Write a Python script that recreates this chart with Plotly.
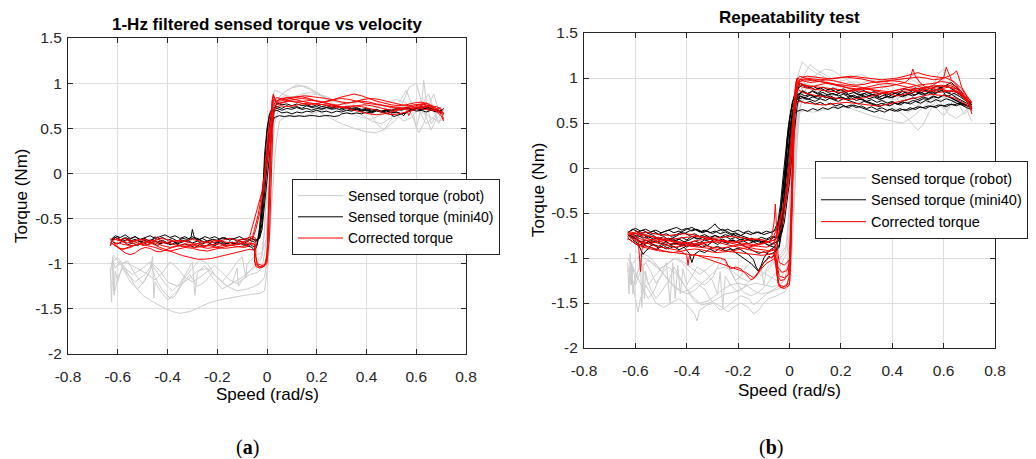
import plotly.graph_objects as go
from plotly.subplots import make_subplots

# tick values shared by both panels
x_ticks = [-0.8, -0.6, -0.4, -0.2, 0, 0.2, 0.4, 0.6, 0.8]
y_ticks = [-2, -1.5, -1, -0.5, 0, 0.5, 1, 1.5]

series_names = ["Sensed torque (robot)", "Sensed torque (mini40)", "Corrected torque"]

# ---- panel (a): 1-Hz filtered, (speed, torque) pairs ----
a_robot = [
    [(-0.63,-1.05),(-0.625,-1.42),(-0.62,-0.92),(-0.615,-1.30),(-0.61,-1.08),(-0.60,-1.20),(-0.58,-1.00),(-0.56,-0.97),(-0.53,-1.12),(-0.50,-1.22),(-0.47,-1.08),(-0.46,-0.92),(-0.455,-1.38),(-0.45,-1.20),(-0.43,-1.30),(-0.40,-1.40),(-0.37,-1.36),(-0.34,-1.22),(-0.31,-1.12),(-0.28,-1.25),(-0.25,-1.20),(-0.22,-1.10),(-0.19,-1.18),(-0.16,-1.25),(-0.13,-1.20),(-0.10,-1.15),(-0.07,-1.08),(-0.04,-1.02),(-0.02,-0.92),(-0.01,-0.60),(0.0,-0.15),(0.01,0.30),(0.02,0.62),(0.04,0.80),(0.07,0.86),(0.10,0.84),(0.14,0.88),(0.18,0.90),(0.22,0.86),(0.26,0.80),(0.30,0.78),(0.34,0.72),(0.38,0.65),(0.42,0.58),(0.46,0.55),(0.50,0.62),(0.54,0.74),(0.57,0.95),(0.60,1.00),(0.63,0.70),(0.66,0.48),(0.68,0.60),(0.70,0.66)],
    [(-0.63,-1.10),(-0.62,-0.95),(-0.61,-1.05),(-0.59,-0.97),(-0.56,-1.10),(-0.53,-1.25),(-0.50,-1.35),(-0.46,-1.42),(-0.42,-1.48),(-0.38,-1.53),(-0.35,-1.55),(-0.31,-1.53),(-0.27,-1.48),(-0.23,-1.43),(-0.19,-1.40),(-0.15,-1.38),(-0.11,-1.36),(-0.07,-1.34),(-0.03,-1.33),(-0.01,-1.30),(0.005,-1.0),(0.012,-0.4),(0.02,0.2),(0.03,0.55),(0.05,0.75),(0.08,0.82),(0.12,0.80),(0.16,0.75),(0.20,0.70),(0.25,0.62),(0.30,0.55),(0.35,0.50),(0.40,0.46),(0.44,0.45),(0.48,0.50),(0.52,0.60),(0.55,0.72),(0.58,0.80),(0.61,0.70),(0.64,0.55),(0.67,0.62),(0.70,0.74)],
    [(-0.62,-1.20),(-0.615,-1.35),(-0.60,-1.15),(-0.58,-1.05),(-0.55,-1.20),(-0.52,-1.28),(-0.49,-1.18),(-0.46,-1.02),(-0.44,-1.10),(-0.41,-1.22),(-0.38,-1.30),(-0.35,-1.22),(-0.32,-1.08),(-0.30,-0.98),(-0.29,-1.35),(-0.28,-1.10),(-0.25,-1.02),(-0.22,-1.15),(-0.18,-1.28),(-0.14,-1.22),(-0.12,-1.05),(-0.115,-1.25),(-0.10,-1.18),(-0.07,-1.12),(-0.04,-1.10),(-0.02,-1.05),(-0.005,-0.80),(0.005,-0.3),(0.015,0.3),(0.025,0.65),(0.04,0.82),(0.07,0.90),(0.10,0.95),(0.14,0.97),(0.18,0.92),(0.22,0.85),(0.26,0.78),(0.30,0.72),(0.34,0.75),(0.38,0.82),(0.41,0.70),(0.44,0.55),(0.47,0.48),(0.50,0.60),(0.53,0.78),(0.56,0.92),(0.58,0.78),(0.60,0.50),(0.62,0.72),(0.63,1.03),(0.64,0.80),(0.66,0.55),(0.69,0.68),(0.71,0.72)],
    [(-0.63,-1.00),(-0.60,-0.93),(-0.57,-1.05),(-0.54,-1.12),(-0.50,-1.05),(-0.47,-0.98),(-0.45,-1.15),(-0.42,-1.30),(-0.39,-1.38),(-0.36,-1.30),(-0.33,-1.15),(-0.30,-1.05),(-0.27,-0.95),(-0.24,-1.00),(-0.21,-1.12),(-0.18,-1.20),(-0.15,-1.10),(-0.12,-0.98),(-0.10,-0.92),(-0.085,-1.15),(-0.08,-1.00),(-0.06,-0.95),(-0.04,-0.90),(-0.02,-0.88),(0.0,-0.70),(0.01,-0.2),(0.02,0.35),(0.03,0.70),(0.05,0.85),(0.08,0.92),(0.12,0.98),(0.16,0.96),(0.20,0.90),(0.24,0.83),(0.28,0.80),(0.32,0.78),(0.36,0.80),(0.40,0.84),(0.44,0.80),(0.48,0.72),(0.52,0.65),(0.55,0.58),(0.58,0.62),(0.62,0.75),(0.65,0.88),(0.67,0.70),(0.69,0.55),(0.70,0.62)],
    [(-0.62,-0.90),(-0.59,-1.00),(-0.56,-1.12),(-0.53,-1.20),(-0.49,-1.12),(-0.46,-1.00),(-0.43,-1.08),(-0.40,-1.20),(-0.36,-1.25),(-0.32,-1.18),(-0.28,-1.08),(-0.24,-1.05),(-0.20,-1.15),(-0.16,-1.25),(-0.12,-1.30),(-0.08,-1.28),(-0.05,-1.25),(-0.03,-1.22),(-0.01,-1.15),(0.005,-0.90),(0.02,-0.3),(0.035,0.3),(0.05,0.58),(0.07,0.62),(0.10,0.64),(0.14,0.63),(0.18,0.66),(0.22,0.70),(0.26,0.72),(0.30,0.70),(0.34,0.66),(0.38,0.62),(0.42,0.60),(0.46,0.65),(0.50,0.72),(0.54,0.75),(0.58,0.72),(0.62,0.68),(0.66,0.62),(0.69,0.58),(0.71,0.60)],
    [(-0.60,-1.02),(-0.57,-0.98),(-0.53,-1.04),(-0.49,-1.10),(-0.45,-1.18),(-0.42,-1.10),(-0.39,-0.98),(-0.36,-1.05),(-0.33,-1.15),(-0.30,-1.20),(-0.27,-1.15),(-0.24,-1.08),(-0.21,-1.02),(-0.18,-1.10),(-0.15,-1.18),(-0.12,-1.22),(-0.09,-1.15),(-0.06,-1.05),(-0.04,-0.98),(-0.02,-0.90),(-0.01,-0.65),(0.0,-0.1),(0.01,0.45),(0.02,0.80),(0.03,0.92),(0.05,0.90),(0.08,0.86),(0.12,0.84),(0.16,0.86),(0.20,0.88),(0.24,0.85),(0.28,0.80),(0.32,0.76),(0.36,0.72),(0.40,0.70),(0.44,0.73),(0.48,0.78),(0.52,0.82),(0.56,0.78),(0.59,0.60),(0.61,0.45),(0.63,0.55),(0.65,0.75),(0.67,0.88),(0.69,0.70),(0.71,0.66)],
]

a_mini40 = [
    [(-0.63,-0.80),(-0.62,-0.72),(-0.60,-0.70),(-0.59,-0.74),(-0.57,-0.71),(-0.55,-0.73),(-0.53,-0.70),(-0.51,-0.74),(-0.49,-0.72),(-0.47,-0.76),(-0.45,-0.70),(-0.44,-0.73),(-0.42,-0.71),(-0.40,-0.74),(-0.38,-0.72),(-0.36,-0.75),(-0.34,-0.72),(-0.32,-0.73),(-0.30,-0.70),(-0.28,-0.74),(-0.26,-0.72),(-0.24,-0.75),(-0.22,-0.73),(-0.20,-0.74),(-0.18,-0.71),(-0.16,-0.73),(-0.14,-0.72),(-0.12,-0.75),(-0.10,-0.73),(-0.08,-0.74),(-0.06,-0.72),(-0.04,-0.75),(-0.03,-0.68),(-0.02,-0.45),(-0.01,-0.10),(0.0,0.25),(0.01,0.55),(0.02,0.68),(0.04,0.70),(0.06,0.67),(0.08,0.68),(0.10,0.66),(0.12,0.68),(0.14,0.67),(0.16,0.69),(0.18,0.68),(0.20,0.70),(0.22,0.68),(0.24,0.69),(0.26,0.67),(0.28,0.69),(0.30,0.68),(0.32,0.70),(0.34,0.69),(0.36,0.71),(0.38,0.69),(0.40,0.70),(0.42,0.68),(0.44,0.70),(0.46,0.69),(0.48,0.71),(0.50,0.70),(0.52,0.72),(0.54,0.71),(0.56,0.73),(0.58,0.72),(0.60,0.73),(0.62,0.71),(0.64,0.72),(0.66,0.70),(0.68,0.71),(0.70,0.69),(0.71,0.72)],
    [(-0.62,-0.76),(-0.60,-0.78),(-0.58,-0.75),(-0.56,-0.79),(-0.54,-0.77),(-0.52,-0.80),(-0.50,-0.76),(-0.48,-0.79),(-0.46,-0.77),(-0.44,-0.80),(-0.42,-0.76),(-0.40,-0.78),(-0.38,-0.75),(-0.36,-0.77),(-0.34,-0.74),(-0.32,-0.76),(-0.305,-0.70),(-0.30,-0.62),(-0.295,-0.68),(-0.29,-0.72),(-0.27,-0.74),(-0.25,-0.76),(-0.23,-0.74),(-0.21,-0.77),(-0.19,-0.75),(-0.17,-0.78),(-0.15,-0.76),(-0.13,-0.79),(-0.11,-0.77),(-0.09,-0.80),(-0.07,-0.78),(-0.05,-0.82),(-0.04,-0.78),(-0.03,-0.60),(-0.02,-0.30),(-0.01,0.10),(0.0,0.45),(0.01,0.65),(0.02,0.72),(0.04,0.74),(0.06,0.72),(0.08,0.75),(0.10,0.73),(0.12,0.74),(0.14,0.72),(0.16,0.75),(0.18,0.73),(0.20,0.74),(0.22,0.72),(0.24,0.73),(0.26,0.71),(0.28,0.72),(0.30,0.70),(0.32,0.72),(0.34,0.70),(0.36,0.71),(0.38,0.69),(0.40,0.70),(0.42,0.68),(0.44,0.70),(0.46,0.68),(0.48,0.69),(0.50,0.67),(0.52,0.68),(0.54,0.66),(0.56,0.67),(0.58,0.70),(0.60,0.72),(0.62,0.70),(0.64,0.73),(0.66,0.71),(0.68,0.69),(0.70,0.70)],
    [(-0.63,-0.74),(-0.61,-0.69),(-0.59,-0.71),(-0.57,-0.68),(-0.55,-0.72),(-0.53,-0.70),(-0.51,-0.73),(-0.49,-0.71),(-0.47,-0.69),(-0.45,-0.72),(-0.43,-0.70),(-0.41,-0.68),(-0.39,-0.71),(-0.37,-0.69),(-0.35,-0.72),(-0.33,-0.70),(-0.31,-0.73),(-0.29,-0.71),(-0.27,-0.73),(-0.25,-0.70),(-0.23,-0.72),(-0.21,-0.70),(-0.19,-0.73),(-0.17,-0.71),(-0.15,-0.74),(-0.13,-0.72),(-0.11,-0.70),(-0.09,-0.73),(-0.07,-0.71),(-0.05,-0.74),(-0.03,-0.72),(-0.02,-0.55),(-0.01,-0.20),(0.0,0.15),(0.01,0.40),(0.02,0.55),(0.03,0.62),(0.05,0.64),(0.07,0.63),(0.09,0.64),(0.11,0.63),(0.13,0.64),(0.15,0.63),(0.17,0.64),(0.19,0.64),(0.21,0.63),(0.23,0.64),(0.25,0.64),(0.27,0.63),(0.29,0.64),(0.30,0.66),(0.32,0.67),(0.34,0.66),(0.36,0.67),(0.38,0.66),(0.40,0.68),(0.42,0.67),(0.44,0.69),(0.46,0.68),(0.48,0.70),(0.50,0.69),(0.52,0.71),(0.54,0.70),(0.56,0.72),(0.58,0.71),(0.60,0.73),(0.62,0.72),(0.64,0.74),(0.66,0.72),(0.68,0.70),(0.70,0.68)],
    [(0.71,0.66),(0.70,0.70),(0.68,0.68),(0.66,0.70),(0.64,0.68),(0.62,0.70),(0.60,0.69),(0.58,0.71),(0.56,0.68),(0.55,0.64),(0.54,0.66),(0.52,0.68),(0.50,0.67),(0.48,0.70),(0.46,0.69),(0.44,0.71),(0.42,0.70),(0.40,0.72),(0.38,0.71),(0.36,0.73),(0.34,0.72),(0.32,0.74),(0.30,0.72),(0.28,0.75),(0.26,0.73),(0.24,0.75),(0.22,0.74),(0.20,0.76),(0.18,0.74),(0.16,0.76),(0.14,0.75),(0.12,0.77),(0.10,0.75),(0.08,0.77),(0.06,0.76),(0.04,0.78),(0.03,0.72),(0.02,0.50),(0.01,0.20),(0.0,-0.10),(-0.01,-0.40),(-0.02,-0.62),(-0.03,-0.72),(-0.05,-0.76),(-0.07,-0.74),(-0.09,-0.77),(-0.11,-0.75),(-0.13,-0.78),(-0.15,-0.76),(-0.17,-0.79),(-0.19,-0.77),(-0.21,-0.80),(-0.23,-0.78),(-0.25,-0.81),(-0.27,-0.79),(-0.29,-0.82),(-0.31,-0.80),(-0.33,-0.78),(-0.35,-0.80),(-0.37,-0.77),(-0.39,-0.79),(-0.41,-0.76),(-0.43,-0.78),(-0.45,-0.75),(-0.47,-0.77),(-0.49,-0.74),(-0.51,-0.76),(-0.53,-0.73),(-0.55,-0.75),(-0.57,-0.72),(-0.59,-0.74),(-0.61,-0.71),(-0.62,-0.74)],
    [(-0.60,-0.72),(-0.58,-0.75),(-0.56,-0.73),(-0.54,-0.76),(-0.52,-0.74),(-0.50,-0.77),(-0.48,-0.75),(-0.46,-0.73),(-0.44,-0.76),(-0.42,-0.74),(-0.40,-0.77),(-0.38,-0.75),(-0.36,-0.78),(-0.34,-0.76),(-0.32,-0.74),(-0.30,-0.77),(-0.28,-0.75),(-0.26,-0.78),(-0.24,-0.76),(-0.22,-0.79),(-0.20,-0.77),(-0.18,-0.75),(-0.16,-0.78),(-0.14,-0.76),(-0.12,-0.79),(-0.10,-0.77),(-0.08,-0.80),(-0.06,-0.82),(-0.05,-0.86),(-0.04,-0.80),(-0.03,-0.65),(-0.02,-0.40),(-0.015,-0.10),(-0.01,0.20),(0.0,0.50),(0.01,0.66),(0.02,0.70),(0.04,0.72),(0.06,0.70),(0.08,0.72),(0.10,0.71),(0.12,0.73),(0.14,0.71),(0.16,0.72),(0.18,0.70),(0.20,0.72),(0.22,0.71),(0.24,0.73),(0.26,0.72),(0.28,0.74),(0.30,0.72),(0.32,0.73),(0.34,0.71),(0.36,0.72),(0.38,0.70),(0.40,0.71),(0.42,0.69),(0.44,0.70),(0.46,0.68),(0.48,0.67),(0.50,0.65),(0.51,0.63),(0.52,0.64),(0.54,0.66),(0.56,0.68),(0.58,0.70),(0.60,0.72),(0.62,0.74),(0.64,0.73),(0.66,0.72),(0.68,0.70),(0.70,0.67)],
]

a_corrected = [
    [(-0.63,-0.80),(-0.62,-0.74),(-0.60,-0.72),(-0.58,-0.76),(-0.56,-0.74),(-0.54,-0.78),(-0.52,-0.76),(-0.50,-0.80),(-0.47,-0.78),(-0.45,-0.74),(-0.44,-0.70),(-0.43,-0.75),(-0.40,-0.77),(-0.37,-0.79),(-0.34,-0.81),(-0.31,-0.80),(-0.28,-0.78),(-0.25,-0.80),(-0.22,-0.79),(-0.19,-0.78),(-0.16,-0.80),(-0.13,-0.79),(-0.10,-0.78),(-0.07,-0.77),(-0.05,-0.78),(-0.05,-0.95),(-0.045,-1.03),(-0.03,-1.05),(-0.01,-1.02),(0.0,-0.90),(0.005,-0.50),(0.01,0.0),(0.015,0.50),(0.02,0.80),(0.025,0.86),(0.03,0.82),(0.05,0.80),(0.08,0.82),(0.11,0.84),(0.14,0.85),(0.17,0.83),(0.20,0.80),(0.23,0.78),(0.26,0.76),(0.29,0.74),(0.32,0.72),(0.35,0.70),(0.38,0.68),(0.41,0.66),(0.44,0.65),(0.47,0.66),(0.50,0.68),(0.53,0.70),(0.56,0.72),(0.59,0.74),(0.62,0.76),(0.64,0.78),(0.66,0.74),(0.68,0.70),(0.70,0.66)],
    [(0.71,0.60),(0.70,0.68),(0.68,0.72),(0.66,0.74),(0.64,0.76),(0.62,0.77),(0.60,0.76),(0.57,0.75),(0.54,0.76),(0.51,0.78),(0.48,0.80),(0.45,0.82),(0.42,0.83),(0.39,0.82),(0.36,0.80),(0.33,0.78),(0.30,0.79),(0.27,0.81),(0.24,0.83),(0.21,0.84),(0.18,0.85),(0.15,0.86),(0.12,0.85),(0.09,0.84),(0.06,0.83),(0.04,0.80),(0.02,0.74),(0.01,0.60),(0.0,0.30),(-0.01,0.0),(-0.02,-0.20),(-0.04,-0.40),(-0.06,-0.60),(-0.07,-0.70),(-0.09,-0.76),(-0.12,-0.78),(-0.15,-0.80),(-0.18,-0.82),(-0.21,-0.84),(-0.24,-0.86),(-0.27,-0.85),(-0.30,-0.83),(-0.33,-0.82),(-0.36,-0.84),(-0.39,-0.86),(-0.42,-0.85),(-0.45,-0.82),(-0.48,-0.80),(-0.51,-0.78),(-0.54,-0.80),(-0.57,-0.83),(-0.59,-0.84),(-0.61,-0.80),(-0.63,-0.76)],
    [(-0.62,-0.78),(-0.60,-0.82),(-0.58,-0.84),(-0.55,-0.82),(-0.52,-0.78),(-0.49,-0.76),(-0.46,-0.78),(-0.43,-0.82),(-0.40,-0.85),(-0.37,-0.88),(-0.34,-0.91),(-0.31,-0.93),(-0.28,-0.95),(-0.25,-0.95),(-0.22,-0.94),(-0.19,-0.92),(-0.16,-0.90),(-0.13,-0.88),(-0.10,-0.86),(-0.07,-0.84),(-0.05,-0.85),(-0.04,-1.00),(-0.03,-1.04),(-0.01,-1.03),(0.0,-0.95),(0.005,-0.60),(0.01,-0.10),(0.015,0.40),(0.02,0.75),(0.025,0.88),(0.03,0.84),(0.04,0.76),(0.06,0.78),(0.09,0.80),(0.12,0.79),(0.15,0.77),(0.18,0.76),(0.21,0.78),(0.24,0.80),(0.27,0.82),(0.30,0.83),(0.33,0.82),(0.36,0.80),(0.39,0.78),(0.42,0.77),(0.45,0.76),(0.48,0.75),(0.51,0.74),(0.54,0.73),(0.56,0.72),(0.57,0.64),(0.58,0.70),(0.60,0.74),(0.63,0.76),(0.66,0.73),(0.69,0.68),(0.71,0.65)],
    [(-0.60,-0.74),(-0.57,-0.72),(-0.54,-0.75),(-0.51,-0.73),(-0.48,-0.76),(-0.45,-0.74),(-0.42,-0.72),(-0.39,-0.74),(-0.36,-0.76),(-0.33,-0.75),(-0.30,-0.73),(-0.27,-0.75),(-0.24,-0.77),(-0.21,-0.76),(-0.18,-0.74),(-0.15,-0.72),(-0.12,-0.74),(-0.10,-0.73),(-0.08,-0.72),(-0.06,-0.70),(-0.045,-0.72),(-0.045,-0.92),(-0.04,-1.00),(-0.02,-1.02),(0.0,-1.00),(0.01,-0.70),(0.015,-0.20),(0.02,0.30),(0.025,0.65),(0.03,0.78),(0.05,0.82),(0.08,0.84),(0.11,0.82),(0.14,0.80),(0.17,0.78),(0.20,0.77),(0.23,0.76),(0.26,0.75),(0.29,0.76),(0.32,0.78),(0.35,0.79),(0.38,0.80),(0.41,0.79),(0.44,0.77),(0.47,0.75),(0.50,0.73),(0.53,0.72),(0.56,0.71),(0.59,0.72),(0.62,0.74),(0.65,0.72),(0.68,0.69),(0.70,0.64),(0.71,0.58)],
    [(0.70,0.72),(0.68,0.74),(0.65,0.75),(0.62,0.73),(0.59,0.70),(0.56,0.68),(0.53,0.66),(0.50,0.65),(0.47,0.67),(0.44,0.70),(0.41,0.72),(0.38,0.74),(0.35,0.75),(0.32,0.74),(0.29,0.73),(0.26,0.74),(0.23,0.76),(0.20,0.77),(0.17,0.78),(0.14,0.77),(0.11,0.75),(0.08,0.74),(0.05,0.75),(0.03,0.72),(0.015,0.50),(0.005,0.20),(-0.01,-0.05),(-0.02,-0.25),(-0.035,-0.45),(-0.05,-0.62),(-0.06,-0.72),(-0.08,-0.76),(-0.11,-0.75),(-0.14,-0.77),(-0.17,-0.76),(-0.20,-0.74),(-0.23,-0.75),(-0.26,-0.77),(-0.29,-0.78),(-0.32,-0.76),(-0.35,-0.74),(-0.38,-0.75),(-0.41,-0.77),(-0.44,-0.76),(-0.47,-0.74),(-0.50,-0.73),(-0.53,-0.75),(-0.56,-0.77),(-0.59,-0.75),(-0.62,-0.72)],
    [(-0.63,-0.72),(-0.61,-0.78),(-0.59,-0.84),(-0.57,-0.88),(-0.55,-0.90),(-0.53,-0.88),(-0.51,-0.84),(-0.49,-0.82),(-0.47,-0.83),(-0.45,-0.86),(-0.43,-0.87),(-0.41,-0.85),(-0.38,-0.82),(-0.35,-0.80),(-0.32,-0.81),(-0.29,-0.82),(-0.26,-0.81),(-0.23,-0.80),(-0.20,-0.82),(-0.17,-0.83),(-0.14,-0.82),(-0.11,-0.81),(-0.08,-0.80),(-0.06,-0.78),(-0.05,-0.80),(-0.05,-0.98),(-0.04,-1.02),(-0.02,-1.04),(-0.005,-1.00),(0.005,-0.75),(0.01,-0.30),(0.015,0.20),(0.02,0.60),(0.025,0.82),(0.03,0.80),(0.05,0.78),(0.08,0.80),(0.11,0.82),(0.14,0.83),(0.17,0.82),(0.20,0.80),(0.23,0.79),(0.26,0.81),(0.29,0.84),(0.32,0.86),(0.35,0.88),(0.38,0.86),(0.41,0.83),(0.44,0.80),(0.47,0.78),(0.50,0.76),(0.53,0.75),(0.56,0.76),(0.59,0.78),(0.62,0.79),(0.65,0.77),(0.67,0.74),(0.69,0.70),(0.71,0.67)],
    [(0.71,0.70),(0.69,0.72),(0.66,0.70),(0.63,0.71),(0.60,0.73),(0.57,0.74),(0.54,0.72),(0.51,0.70),(0.48,0.71),(0.45,0.73),(0.42,0.75),(0.39,0.76),(0.36,0.75),(0.33,0.73),(0.30,0.74),(0.27,0.76),(0.24,0.78),(0.21,0.80),(0.18,0.81),(0.15,0.80),(0.12,0.79),(0.09,0.80),(0.06,0.82),(0.04,0.84),(0.025,0.80),(0.015,0.55),(0.0,0.15),(-0.015,-0.20),(-0.03,-0.45),(-0.045,-0.62),(-0.06,-0.74),(-0.07,-0.80),(-0.09,-0.82),(-0.12,-0.81),(-0.15,-0.79),(-0.18,-0.80),(-0.21,-0.82),(-0.24,-0.83),(-0.27,-0.81),(-0.30,-0.79),(-0.33,-0.78),(-0.36,-0.80),(-0.39,-0.82),(-0.42,-0.80),(-0.45,-0.77),(-0.48,-0.76),(-0.51,-0.78),(-0.54,-0.80),(-0.57,-0.79),(-0.60,-0.77),(-0.62,-0.79)],
]

# ---- panel (b): repeatability test ----
b_robot = [
    [(-0.63,-1.05),(-0.625,-1.40),(-0.62,-0.95),(-0.615,-1.30),(-0.61,-1.10),(-0.60,-1.25),(-0.58,-1.05),(-0.56,-1.20),(-0.54,-1.35),(-0.52,-1.45),(-0.50,-1.38),(-0.47,-1.25),(-0.45,-1.10),(-0.43,-1.20),(-0.40,-1.35),(-0.37,-1.48),(-0.34,-1.52),(-0.31,-1.50),(-0.28,-1.45),(-0.25,-1.40),(-0.22,-1.38),(-0.19,-1.35),(-0.16,-1.30),(-0.13,-1.28),(-0.10,-1.30),(-0.07,-1.32),(-0.04,-1.30),(-0.02,-1.25),(0.0,-1.00),(0.01,-0.40),(0.02,0.20),(0.03,0.65),(0.05,0.88),(0.08,0.98),(0.11,1.05),(0.14,1.10),(0.17,1.08),(0.20,1.02),(0.24,0.95),(0.28,0.90),(0.32,0.88),(0.36,0.90),(0.40,0.95),(0.43,1.00),(0.46,1.05),(0.49,1.02),(0.52,0.92),(0.55,0.80),(0.58,0.70),(0.61,0.65),(0.64,0.72),(0.67,0.85),(0.69,0.75),(0.71,0.62)],
    [(-0.62,-1.10),(-0.61,-1.30),(-0.60,-1.45),(-0.59,-1.60),(-0.58,-1.45),(-0.56,-1.30),(-0.54,-1.40),(-0.52,-1.50),(-0.49,-1.55),(-0.46,-1.50),(-0.43,-1.45),(-0.40,-1.52),(-0.37,-1.62),(-0.36,-1.70),(-0.35,-1.58),(-0.32,-1.52),(-0.29,-1.50),(-0.26,-1.55),(-0.24,-1.60),(-0.22,-1.55),(-0.19,-1.50),(-0.16,-1.55),(-0.14,-1.62),(-0.12,-1.58),(-0.10,-1.50),(-0.08,-1.45),(-0.05,-1.42),(-0.02,-1.38),(0.0,-1.30),(0.01,-0.90),(0.02,-0.30),(0.03,0.30),(0.04,0.62),(0.06,0.64),(0.09,0.62),(0.12,0.64),(0.16,0.66),(0.20,0.68),(0.24,0.66),(0.28,0.62),(0.32,0.58),(0.36,0.55),(0.40,0.52),(0.44,0.50),(0.47,0.55),(0.50,0.62),(0.53,0.70),(0.56,0.78),(0.59,0.72),(0.62,0.60),(0.65,0.55),(0.68,0.62),(0.70,0.68)],
    [(-0.62,-1.20),(-0.60,-1.30),(-0.58,-1.15),(-0.56,-1.05),(-0.54,-1.15),(-0.52,-1.28),(-0.50,-1.20),(-0.48,-1.05),(-0.465,-1.50),(-0.455,-1.05),(-0.445,-1.45),(-0.435,-1.08),(-0.425,-1.40),(-0.415,-1.12),(-0.40,-1.30),(-0.38,-1.20),(-0.36,-1.10),(-0.33,-1.15),(-0.30,-1.25),(-0.28,-1.40),(-0.27,-1.15),(-0.26,-1.55),(-0.25,-1.20),(-0.23,-1.30),(-0.20,-1.38),(-0.17,-1.30),(-0.14,-1.20),(-0.11,-1.15),(-0.08,-1.20),(-0.05,-1.25),(-0.03,-1.20),(-0.01,-1.10),(0.005,-0.70),(0.015,-0.10),(0.025,0.45),(0.035,0.75),(0.05,0.92),(0.07,1.00),(0.10,1.02),(0.13,0.98),(0.16,0.94),(0.19,0.92),(0.22,0.90),(0.26,0.92),(0.30,0.96),(0.34,0.98),(0.38,0.95),(0.41,0.88),(0.44,0.80),(0.47,0.72),(0.50,0.68),(0.53,0.75),(0.56,0.90),(0.58,1.05),(0.60,1.10),(0.62,1.00),(0.64,0.85),(0.66,0.70),(0.68,0.60),(0.70,0.65)],
    [(-0.63,-1.00),(-0.61,-1.10),(-0.59,-1.22),(-0.57,-1.35),(-0.55,-1.45),(-0.53,-1.38),(-0.51,-1.25),(-0.49,-1.15),(-0.47,-1.10),(-0.44,-1.18),(-0.41,-1.30),(-0.38,-1.42),(-0.35,-1.50),(-0.32,-1.48),(-0.29,-1.42),(-0.26,-1.35),(-0.23,-1.30),(-0.20,-1.28),(-0.17,-1.30),(-0.14,-1.36),(-0.11,-1.40),(-0.08,-1.38),(-0.05,-1.33),(-0.03,-1.28),(-0.01,-1.20),(0.005,-0.90),(0.015,-0.30),(0.025,0.30),(0.035,0.62),(0.05,0.75),(0.08,0.80),(0.11,0.78),(0.14,0.74),(0.17,0.70),(0.20,0.68),(0.24,0.70),(0.28,0.74),(0.32,0.78),(0.36,0.76),(0.40,0.70),(0.43,0.62),(0.46,0.55),(0.48,0.48),(0.50,0.42),(0.52,0.48),(0.54,0.60),(0.57,0.75),(0.60,0.82),(0.63,0.78),(0.66,0.70),(0.69,0.72),(0.71,0.78)],
    [(-0.60,-0.92),(-0.57,-0.98),(-0.54,-1.05),(-0.51,-1.12),(-0.48,-1.08),(-0.45,-1.00),(-0.42,-1.05),(-0.39,-1.15),(-0.36,-1.25),(-0.33,-1.30),(-0.30,-1.22),(-0.28,-1.10),(-0.26,-1.00),(-0.24,-1.08),(-0.22,-1.20),(-0.20,-1.30),(-0.18,-1.38),(-0.15,-1.42),(-0.12,-1.38),(-0.09,-1.30),(-0.07,-1.22),(-0.05,-1.15),(-0.03,-1.05),(-0.01,-0.95),(0.0,-0.70),(0.01,-0.20),(0.02,0.35),(0.03,0.72),(0.04,0.92),(0.06,1.05),(0.08,1.15),(0.10,1.10),(0.13,1.05),(0.16,1.00),(0.19,0.95),(0.22,0.90),(0.25,0.85),(0.28,0.82),(0.31,0.80),(0.34,0.84),(0.37,0.90),(0.40,0.85),(0.43,0.72),(0.46,0.62),(0.49,0.66),(0.52,0.78),(0.55,0.92),(0.58,1.00),(0.61,0.95),(0.64,0.82),(0.67,0.72),(0.70,0.68)],
    [(-0.62,-1.30),(-0.615,-1.05),(-0.61,-1.40),(-0.60,-1.20),(-0.58,-1.10),(-0.55,-1.02),(-0.52,-1.08),(-0.49,-1.18),(-0.46,-1.28),(-0.43,-1.35),(-0.40,-1.40),(-0.37,-1.36),(-0.34,-1.28),(-0.31,-1.20),(-0.28,-1.12),(-0.25,-1.10),(-0.22,-1.15),(-0.19,-1.22),(-0.16,-1.26),(-0.13,-1.22),(-0.11,-1.10),(-0.10,-1.30),(-0.09,-1.12),(-0.07,-1.05),(-0.05,-1.00),(-0.03,-0.95),(-0.01,-0.85),(0.0,-0.50),(0.01,0.10),(0.02,0.60),(0.03,0.85),(0.05,0.95),(0.08,0.92),(0.11,0.88),(0.14,0.86),(0.17,0.88),(0.20,0.92),(0.23,0.95),(0.26,0.96),(0.29,0.93),(0.32,0.88),(0.35,0.82),(0.38,0.78),(0.41,0.76),(0.44,0.80),(0.47,0.86),(0.50,0.90),(0.53,0.86),(0.56,0.80),(0.59,0.76),(0.62,0.80),(0.64,0.92),(0.66,0.88),(0.68,0.72),(0.70,0.58),(0.71,0.52)],
    [(-0.63,-1.15),(-0.60,-1.02),(-0.57,-0.95),(-0.54,-1.00),(-0.51,-1.10),(-0.48,-1.22),(-0.45,-1.32),(-0.42,-1.38),(-0.39,-1.35),(-0.36,-1.28),(-0.33,-1.35),(-0.31,-1.45),(-0.29,-1.52),(-0.27,-1.58),(-0.25,-1.55),(-0.22,-1.48),(-0.19,-1.42),(-0.16,-1.45),(-0.14,-1.52),(-0.12,-1.48),(-0.09,-1.40),(-0.06,-1.36),(-0.03,-1.33),(-0.01,-1.28),(0.005,-1.10),(0.015,-0.50),(0.025,0.10),(0.035,0.55),(0.05,0.82),(0.07,0.90),(0.10,0.86),(0.13,0.82),(0.16,0.80),(0.19,0.82),(0.22,0.86),(0.25,0.88),(0.28,0.86),(0.31,0.82),(0.34,0.78),(0.37,0.74),(0.40,0.72),(0.43,0.74),(0.46,0.80),(0.49,0.86),(0.52,0.82),(0.55,0.72),(0.58,0.64),(0.60,0.58),(0.62,0.66),(0.64,0.78),(0.66,0.84),(0.68,0.80),(0.70,0.74)],
    [(-0.58,-1.00),(-0.575,-1.55),(-0.57,-1.10),(-0.565,-1.45),(-0.56,-1.15),(-0.55,-1.30),(-0.53,-1.22),(-0.50,-1.12),(-0.47,-1.05),(-0.44,-1.00),(-0.41,-1.05),(-0.38,-1.12),(-0.35,-1.18),(-0.32,-1.12),(-0.29,-1.05),(-0.27,-1.00),(-0.25,-1.05),(-0.23,-1.15),(-0.21,-1.25),(-0.19,-1.20),(-0.17,-1.10),(-0.15,-1.05),(-0.13,-1.12),(-0.11,-1.20),(-0.09,-1.15),(-0.07,-1.08),(-0.05,-1.02),(-0.03,-0.98),(-0.015,-0.92),(-0.005,-0.60),(0.005,0.0),(0.015,0.55),(0.025,0.90),(0.035,1.05),(0.05,1.18),(0.07,1.12),(0.10,1.06),(0.13,1.02),(0.16,0.98),(0.19,0.96),(0.22,0.98),(0.25,1.02),(0.28,1.04),(0.31,1.00),(0.34,0.94),(0.37,0.90),(0.40,0.92),(0.43,0.98),(0.46,1.00),(0.49,0.96),(0.52,0.90),(0.55,0.84),(0.58,0.80),(0.61,0.78),(0.64,0.74),(0.67,0.70),(0.70,0.66)],
]

b_mini40 = [
    [(-0.63,-0.72),(-0.61,-0.68),(-0.59,-0.71),(-0.57,-0.69),(-0.55,-0.73),(-0.53,-0.70),(-0.51,-0.74),(-0.49,-0.71),(-0.47,-0.69),(-0.45,-0.72),(-0.43,-0.70),(-0.41,-0.73),(-0.39,-0.70),(-0.37,-0.68),(-0.35,-0.71),(-0.33,-0.69),(-0.31,-0.72),(-0.29,-0.70),(-0.27,-0.73),(-0.25,-0.71),(-0.23,-0.74),(-0.21,-0.72),(-0.19,-0.75),(-0.17,-0.72),(-0.15,-0.74),(-0.13,-0.71),(-0.11,-0.73),(-0.09,-0.70),(-0.07,-0.72),(-0.05,-0.68),(-0.04,-0.55),(-0.03,-0.40),(-0.02,-0.20),(-0.01,0.10),(0.0,0.40),(0.01,0.62),(0.02,0.72),(0.04,0.75),(0.06,0.72),(0.08,0.74),(0.10,0.71),(0.12,0.73),(0.14,0.70),(0.16,0.72),(0.18,0.69),(0.20,0.71),(0.22,0.68),(0.24,0.70),(0.26,0.67),(0.28,0.69),(0.30,0.66),(0.32,0.68),(0.34,0.65),(0.36,0.67),(0.38,0.64),(0.40,0.66),(0.42,0.63),(0.44,0.65),(0.46,0.64),(0.48,0.66),(0.50,0.68),(0.52,0.67),(0.54,0.69),(0.56,0.68),(0.58,0.70),(0.60,0.69),(0.62,0.71),(0.64,0.70),(0.66,0.72),(0.68,0.70),(0.70,0.68)],
    [(-0.62,-0.75),(-0.60,-0.78),(-0.58,-0.82),(-0.57,-0.88),(-0.56,-0.84),(-0.54,-0.80),(-0.52,-0.83),(-0.50,-0.79),(-0.48,-0.82),(-0.46,-0.78),(-0.44,-0.81),(-0.42,-0.77),(-0.40,-0.80),(-0.38,-0.76),(-0.36,-0.79),(-0.34,-0.77),(-0.32,-0.80),(-0.30,-0.78),(-0.28,-0.81),(-0.26,-0.79),(-0.24,-0.82),(-0.22,-0.80),(-0.20,-0.83),(-0.18,-0.81),(-0.16,-0.84),(-0.14,-0.82),(-0.12,-0.85),(-0.10,-0.83),(-0.08,-0.86),(-0.06,-0.84),(-0.04,-0.80),(-0.03,-0.60),(-0.02,-0.30),(-0.01,0.00),(0.0,0.30),(0.01,0.55),(0.02,0.70),(0.03,0.80),(0.05,0.85),(0.07,0.82),(0.09,0.86),(0.11,0.83),(0.13,0.87),(0.15,0.84),(0.17,0.86),(0.19,0.83),(0.21,0.85),(0.23,0.82),(0.25,0.84),(0.27,0.81),(0.29,0.83),(0.31,0.80),(0.33,0.82),(0.35,0.79),(0.37,0.81),(0.39,0.78),(0.41,0.80),(0.43,0.82),(0.45,0.80),(0.47,0.83),(0.49,0.81),(0.51,0.84),(0.53,0.82),(0.55,0.85),(0.57,0.83),(0.59,0.86),(0.61,0.84),(0.63,0.82),(0.65,0.78),(0.67,0.75),(0.69,0.72),(0.71,0.70)],
    [(-0.63,-0.78),(-0.61,-0.82),(-0.59,-0.86),(-0.57,-0.84),(-0.55,-0.88),(-0.53,-0.85),(-0.51,-0.89),(-0.49,-0.86),(-0.47,-0.90),(-0.45,-0.87),(-0.43,-0.91),(-0.41,-0.88),(-0.39,-0.95),(-0.38,-1.05),(-0.37,-0.96),(-0.35,-0.92),(-0.33,-0.94),(-0.31,-0.90),(-0.29,-0.93),(-0.27,-0.89),(-0.25,-0.92),(-0.23,-0.90),(-0.21,-0.94),(-0.19,-0.98),(-0.17,-1.02),(-0.15,-1.06),(-0.13,-1.12),(-0.12,-1.15),(-0.11,-1.10),(-0.10,-1.05),(-0.09,-1.02),(-0.08,-0.98),(-0.07,-1.00),(-0.06,-0.96),(-0.05,-0.90),(-0.04,-0.70),(-0.03,-0.40),(-0.02,-0.10),(-0.01,0.20),(0.0,0.50),(0.01,0.70),(0.02,0.80),(0.04,0.83),(0.06,0.80),(0.08,0.82),(0.10,0.79),(0.12,0.81),(0.14,0.78),(0.16,0.80),(0.18,0.77),(0.20,0.79),(0.22,0.76),(0.24,0.78),(0.26,0.75),(0.28,0.77),(0.30,0.74),(0.32,0.76),(0.34,0.73),(0.36,0.75),(0.38,0.72),(0.40,0.74),(0.42,0.71),(0.44,0.73),(0.46,0.72),(0.48,0.75),(0.50,0.74),(0.52,0.77),(0.54,0.76),(0.56,0.79),(0.58,0.78),(0.60,0.81),(0.62,0.80),(0.64,0.83),(0.66,0.80),(0.68,0.76),(0.70,0.72)],
    [(0.71,0.66),(0.69,0.70),(0.67,0.72),(0.65,0.75),(0.63,0.78),(0.61,0.80),(0.60,0.84),(0.59,0.90),(0.58,0.86),(0.56,0.88),(0.54,0.85),(0.52,0.87),(0.50,0.84),(0.48,0.86),(0.46,0.83),(0.44,0.85),(0.42,0.82),(0.40,0.84),(0.38,0.81),(0.36,0.83),(0.34,0.80),(0.32,0.82),(0.30,0.79),(0.28,0.81),(0.26,0.78),(0.24,0.80),(0.22,0.77),(0.20,0.79),(0.18,0.76),(0.16,0.78),(0.14,0.75),(0.12,0.77),(0.10,0.74),(0.08,0.76),(0.06,0.78),(0.04,0.80),(0.03,0.70),(0.02,0.45),(0.01,0.15),(0.0,-0.15),(-0.01,-0.40),(-0.02,-0.60),(-0.03,-0.72),(-0.05,-0.78),(-0.07,-0.76),(-0.09,-0.79),(-0.11,-0.77),(-0.13,-0.80),(-0.15,-0.78),(-0.17,-0.81),(-0.19,-0.79),(-0.21,-0.82),(-0.23,-0.80),(-0.25,-0.83),(-0.27,-0.81),(-0.29,-0.79),(-0.31,-0.82),(-0.33,-0.80),(-0.35,-0.83),(-0.37,-0.81),(-0.39,-0.84),(-0.41,-0.82),(-0.43,-0.85),(-0.45,-0.83),(-0.47,-0.86),(-0.49,-0.84),(-0.51,-0.87),(-0.53,-0.85),(-0.55,-0.82),(-0.57,-0.84),(-0.59,-0.80),(-0.61,-0.77),(-0.62,-0.74)],
    [(-0.60,-0.70),(-0.58,-0.73),(-0.56,-0.71),(-0.54,-0.74),(-0.52,-0.72),(-0.50,-0.75),(-0.48,-0.73),(-0.46,-0.76),(-0.44,-0.74),(-0.42,-0.71),(-0.40,-0.68),(-0.38,-0.66),(-0.36,-0.69),(-0.34,-0.72),(-0.32,-0.70),(-0.30,-0.73),(-0.28,-0.70),(-0.26,-0.68),(-0.24,-0.71),(-0.22,-0.74),(-0.20,-0.76),(-0.18,-0.78),(-0.16,-0.80),(-0.14,-0.82),(-0.12,-0.80),(-0.10,-0.83),(-0.08,-0.86),(-0.06,-0.88),(-0.05,-0.92),(-0.04,-0.85),(-0.03,-0.65),(-0.02,-0.35),(-0.015,0.00),(-0.01,0.30),(0.0,0.55),(0.01,0.72),(0.02,0.82),(0.03,0.88),(0.05,0.92),(0.07,0.89),(0.09,0.91),(0.11,0.88),(0.13,0.90),(0.15,0.87),(0.17,0.89),(0.19,0.86),(0.21,0.88),(0.23,0.85),(0.25,0.87),(0.27,0.84),(0.29,0.86),(0.31,0.83),(0.33,0.85),(0.35,0.82),(0.37,0.84),(0.39,0.81),(0.41,0.83),(0.43,0.85),(0.45,0.88),(0.47,0.86),(0.49,0.89),(0.51,0.87),(0.53,0.90),(0.55,0.88),(0.57,0.91),(0.59,0.89),(0.61,0.92),(0.63,0.88),(0.65,0.84),(0.67,0.80),(0.69,0.76),(0.71,0.72)],
    [(-0.63,-0.76),(-0.61,-0.73),(-0.59,-0.77),(-0.57,-0.74),(-0.55,-0.78),(-0.53,-0.75),(-0.51,-0.79),(-0.49,-0.76),(-0.47,-0.80),(-0.45,-0.77),(-0.43,-0.74),(-0.41,-0.72),(-0.39,-0.75),(-0.37,-0.73),(-0.35,-0.76),(-0.33,-0.74),(-0.31,-0.77),(-0.29,-0.75),(-0.27,-0.78),(-0.25,-0.76),(-0.23,-0.79),(-0.21,-0.77),(-0.19,-0.80),(-0.17,-0.78),(-0.15,-0.81),(-0.13,-0.79),(-0.11,-0.82),(-0.09,-0.80),(-0.07,-0.78),(-0.05,-0.75),(-0.035,-0.50),(-0.025,-0.20),(-0.015,0.10),(-0.005,0.35),(0.005,0.52),(0.015,0.60),(0.03,0.63),(0.05,0.65),(0.07,0.63),(0.09,0.66),(0.11,0.64),(0.13,0.67),(0.15,0.65),(0.17,0.68),(0.19,0.66),(0.21,0.69),(0.23,0.67),(0.25,0.70),(0.27,0.68),(0.29,0.66),(0.31,0.64),(0.33,0.62),(0.35,0.64),(0.37,0.62),(0.39,0.65),(0.41,0.63),(0.43,0.66),(0.45,0.64),(0.47,0.67),(0.49,0.65),(0.51,0.68),(0.53,0.66),(0.55,0.69),(0.57,0.67),(0.59,0.70),(0.61,0.68),(0.63,0.71),(0.65,0.69),(0.67,0.72),(0.69,0.70),(0.71,0.68)],
    [(0.70,0.74),(0.68,0.78),(0.66,0.82),(0.64,0.86),(0.62,0.84),(0.60,0.87),(0.58,0.85),(0.56,0.82),(0.54,0.84),(0.52,0.81),(0.50,0.83),(0.48,0.80),(0.46,0.82),(0.44,0.79),(0.42,0.81),(0.40,0.78),(0.38,0.80),(0.36,0.77),(0.34,0.79),(0.32,0.82),(0.30,0.84),(0.28,0.81),(0.26,0.83),(0.24,0.86),(0.22,0.84),(0.20,0.87),(0.18,0.85),(0.16,0.88),(0.14,0.86),(0.12,0.89),(0.10,0.87),(0.08,0.90),(0.06,0.92),(0.04,0.94),(0.03,0.85),(0.02,0.60),(0.01,0.30),(0.0,0.0),(-0.01,-0.25),(-0.02,-0.50),(-0.03,-0.70),(-0.04,-0.80),(-0.05,-0.84),(-0.06,-0.88),(-0.08,-0.92),(-0.10,-1.00),(-0.11,-1.08),(-0.12,-1.14),(-0.13,-1.10),(-0.14,-1.02),(-0.16,-0.96),(-0.18,-0.92),(-0.20,-0.89),(-0.22,-0.91),(-0.24,-0.88),(-0.26,-0.90),(-0.28,-0.87),(-0.30,-0.89),(-0.32,-0.86),(-0.34,-0.88),(-0.36,-0.85),(-0.38,-0.87),(-0.40,-0.84),(-0.42,-0.86),(-0.44,-0.83),(-0.46,-0.85),(-0.48,-0.82),(-0.50,-0.84),(-0.52,-0.81),(-0.54,-0.83),(-0.56,-0.80),(-0.58,-0.82),(-0.60,-0.79),(-0.62,-0.77)],
    [(-0.62,-0.70),(-0.60,-0.67),(-0.58,-0.70),(-0.56,-0.68),(-0.54,-0.71),(-0.52,-0.69),(-0.50,-0.72),(-0.48,-0.70),(-0.46,-0.68),(-0.44,-0.66),(-0.42,-0.69),(-0.40,-0.67),(-0.38,-0.70),(-0.36,-0.68),(-0.34,-0.71),(-0.32,-0.69),(-0.30,-0.65),(-0.29,-0.62),(-0.28,-0.66),(-0.26,-0.70),(-0.24,-0.68),(-0.22,-0.71),(-0.20,-0.69),(-0.18,-0.72),(-0.16,-0.70),(-0.14,-0.73),(-0.12,-0.71),(-0.10,-0.74),(-0.08,-0.72),(-0.06,-0.70),(-0.045,-0.60),(-0.035,-0.40),(-0.025,-0.10),(-0.015,0.20),(-0.005,0.45),(0.005,0.62),(0.015,0.72),(0.03,0.76),(0.05,0.78),(0.07,0.76),(0.09,0.79),(0.11,0.77),(0.13,0.80),(0.15,0.78),(0.17,0.76),(0.19,0.74),(0.21,0.77),(0.23,0.75),(0.25,0.73),(0.27,0.71),(0.29,0.74),(0.31,0.72),(0.33,0.70),(0.35,0.68),(0.37,0.71),(0.39,0.69),(0.41,0.72),(0.43,0.70),(0.45,0.73),(0.47,0.71),(0.49,0.74),(0.51,0.72),(0.53,0.75),(0.55,0.73),(0.57,0.76),(0.59,0.74),(0.61,0.77),(0.63,0.75),(0.65,0.72),(0.67,0.70),(0.69,0.67),(0.71,0.65)],
    [(-0.61,-0.80),(-0.59,-0.84),(-0.58,-0.90),(-0.57,-0.96),(-0.56,-0.92),(-0.54,-0.88),(-0.52,-0.91),(-0.50,-0.87),(-0.48,-0.90),(-0.46,-0.86),(-0.44,-0.89),(-0.42,-0.85),(-0.40,-0.88),(-0.38,-0.84),(-0.36,-0.87),(-0.34,-0.83),(-0.32,-0.86),(-0.30,-0.82),(-0.28,-0.85),(-0.26,-0.81),(-0.24,-0.84),(-0.22,-0.80),(-0.20,-0.83),(-0.18,-0.86),(-0.16,-0.89),(-0.14,-0.92),(-0.12,-0.95),(-0.10,-0.93),(-0.08,-0.96),(-0.06,-0.94),(-0.04,-0.88),(-0.03,-0.70),(-0.02,-0.45),(-0.01,-0.15),(0.0,0.15),(0.01,0.45),(0.02,0.65),(0.03,0.78),(0.05,0.86),(0.07,0.83),(0.09,0.85),(0.11,0.82),(0.13,0.84),(0.15,0.81),(0.17,0.83),(0.19,0.80),(0.21,0.82),(0.23,0.79),(0.25,0.81),(0.27,0.78),(0.29,0.80),(0.31,0.77),(0.33,0.79),(0.35,0.76),(0.37,0.78),(0.39,0.80),(0.41,0.83),(0.43,0.81),(0.45,0.84),(0.47,0.82),(0.49,0.85),(0.51,0.83),(0.53,0.86),(0.55,0.84),(0.57,0.87),(0.59,0.89),(0.61,0.92),(0.63,0.95),(0.65,0.90),(0.67,0.82),(0.69,0.76),(0.71,0.70)],
    [(-0.63,-0.74),(-0.61,-0.77),(-0.59,-0.75),(-0.57,-0.78),(-0.55,-0.76),(-0.53,-0.79),(-0.51,-0.77),(-0.49,-0.80),(-0.47,-0.78),(-0.45,-0.81),(-0.43,-0.79),(-0.41,-0.82),(-0.39,-0.80),(-0.37,-0.77),(-0.35,-0.79),(-0.33,-0.76),(-0.31,-0.78),(-0.29,-0.75),(-0.27,-0.77),(-0.25,-0.74),(-0.23,-0.76),(-0.21,-0.73),(-0.19,-0.75),(-0.17,-0.77),(-0.15,-0.79),(-0.13,-0.81),(-0.11,-0.83),(-0.09,-0.81),(-0.07,-0.84),(-0.05,-0.82),(-0.04,-0.75),(-0.03,-0.55),(-0.02,-0.25),(-0.01,0.05),(0.0,0.35),(0.01,0.58),(0.02,0.72),(0.04,0.80),(0.06,0.78),(0.08,0.81),(0.10,0.79),(0.12,0.82),(0.14,0.80),(0.16,0.83),(0.18,0.81),(0.20,0.84),(0.22,0.82),(0.24,0.80),(0.26,0.78),(0.28,0.76),(0.30,0.74),(0.32,0.72),(0.34,0.70),(0.36,0.72),(0.38,0.70),(0.40,0.73),(0.42,0.71),(0.44,0.74),(0.46,0.76),(0.48,0.78),(0.50,0.76),(0.52,0.79),(0.54,0.77),(0.56,0.80),(0.58,0.78),(0.60,0.81),(0.62,0.79),(0.64,0.76),(0.66,0.73),(0.68,0.71),(0.70,0.69)],
]

b_corrected = [
    [(-0.63,-0.80),(-0.62,-0.74),(-0.60,-0.72),(-0.58,-0.75),(-0.56,-0.78),(-0.53,-0.80),(-0.50,-0.82),(-0.47,-0.84),(-0.44,-0.85),(-0.41,-0.86),(-0.38,-0.87),(-0.35,-0.88),(-0.32,-0.89),(-0.29,-0.90),(-0.26,-0.92),(-0.23,-0.93),(-0.20,-0.94),(-0.17,-0.95),(-0.14,-0.96),(-0.11,-0.97),(-0.08,-0.96),(-0.06,-0.95),(-0.05,-1.10),(-0.045,-1.28),(-0.03,-1.33),(-0.01,-1.30),(0.0,-1.20),(0.005,-0.80),(0.01,-0.20),(0.015,0.40),(0.02,0.80),(0.025,0.95),(0.03,1.00),(0.05,0.97),(0.08,0.95),(0.11,0.96),(0.14,0.98),(0.17,0.97),(0.20,0.95),(0.23,0.93),(0.26,0.92),(0.29,0.93),(0.32,0.95),(0.35,0.96),(0.38,0.97),(0.41,0.98),(0.44,0.99),(0.47,1.00),(0.50,1.01),(0.53,1.00),(0.56,0.98),(0.59,0.99),(0.62,1.02),(0.64,1.05),(0.65,1.08),(0.66,1.00),(0.67,0.90),(0.69,0.80),(0.71,0.72)],
    [(-0.62,-0.80),(-0.60,-0.84),(-0.57,-0.88),(-0.54,-0.90),(-0.51,-0.92),(-0.48,-0.93),(-0.45,-0.94),(-0.42,-0.95),(-0.39,-0.96),(-0.36,-0.97),(-0.33,-0.98),(-0.30,-0.99),(-0.27,-1.00),(-0.25,-1.02),(-0.24,-1.08),(-0.23,-1.12),(-0.21,-1.10),(-0.19,-1.12),(-0.17,-1.18),(-0.15,-1.24),(-0.14,-1.23),(-0.12,-1.15),(-0.10,-1.05),(-0.08,-1.00),(-0.06,-0.98),(-0.05,-1.15),(-0.04,-1.30),(-0.02,-1.32),(0.0,-1.28),(0.005,-0.90),(0.01,-0.30),(0.015,0.30),(0.02,0.70),(0.025,0.90),(0.03,0.94),(0.05,0.90),(0.08,0.88),(0.11,0.87),(0.14,0.86),(0.17,0.85),(0.20,0.84),(0.23,0.85),(0.26,0.86),(0.29,0.85),(0.32,0.84),(0.35,0.83),(0.38,0.84),(0.41,0.86),(0.44,0.88),(0.47,0.90),(0.50,0.92),(0.53,0.93),(0.56,0.94),(0.59,0.96),(0.62,0.95),(0.65,0.90),(0.68,0.82),(0.70,0.74)],
    [(0.71,0.60),(0.70,0.70),(0.68,0.78),(0.66,0.86),(0.64,0.90),(0.62,0.92),(0.60,0.91),(0.57,0.90),(0.54,0.88),(0.51,0.86),(0.48,0.84),(0.45,0.82),(0.42,0.80),(0.39,0.82),(0.36,0.84),(0.33,0.86),(0.30,0.88),(0.27,0.90),(0.24,0.91),(0.21,0.92),(0.18,0.93),(0.15,0.95),(0.12,0.96),(0.09,0.98),(0.06,0.99),(0.04,0.98),(0.025,0.85),(0.015,0.50),(0.005,0.10),(-0.01,-0.20),(-0.025,-0.45),(-0.04,-0.65),(-0.055,-0.80),(-0.07,-0.86),(-0.09,-0.88),(-0.12,-0.87),(-0.15,-0.86),(-0.18,-0.85),(-0.21,-0.86),(-0.24,-0.88),(-0.27,-0.89),(-0.30,-0.88),(-0.33,-0.86),(-0.36,-0.84),(-0.39,-0.85),(-0.42,-0.87),(-0.45,-0.88),(-0.48,-0.86),(-0.51,-0.84),(-0.54,-0.82),(-0.57,-0.80),(-0.59,-0.78),(-0.61,-0.74),(-0.63,-0.70)],
    [(-0.63,-0.72),(-0.61,-0.75),(-0.59,-0.78),(-0.585,-0.95),(-0.58,-1.15),(-0.575,-0.92),(-0.57,-0.82),(-0.55,-0.80),(-0.52,-0.79),(-0.49,-0.80),(-0.46,-0.81),(-0.43,-0.82),(-0.40,-0.83),(-0.37,-0.84),(-0.34,-0.83),(-0.31,-0.82),(-0.28,-0.81),(-0.25,-0.82),(-0.22,-0.84),(-0.19,-0.86),(-0.16,-0.88),(-0.13,-0.90),(-0.10,-0.91),(-0.08,-0.92),(-0.06,-0.90),(-0.05,-1.05),(-0.045,-1.20),(-0.035,-1.25),(-0.02,-1.24),(-0.005,-1.18),(0.005,-0.80),(0.01,-0.20),(0.015,0.35),(0.02,0.75),(0.025,0.92),(0.03,0.96),(0.05,0.93),(0.08,0.91),(0.11,0.90),(0.14,0.89),(0.17,0.88),(0.20,0.87),(0.23,0.86),(0.26,0.87),(0.29,0.88),(0.32,0.87),(0.35,0.86),(0.38,0.85),(0.41,0.84),(0.44,0.85),(0.47,0.86),(0.50,0.88),(0.53,0.90),(0.56,0.91),(0.59,0.92),(0.62,0.90),(0.65,0.86),(0.68,0.78),(0.70,0.70),(0.71,0.64)],
    [(-0.62,-0.76),(-0.60,-0.79),(-0.58,-0.81),(-0.56,-0.83),(-0.54,-0.85),(-0.52,-0.87),(-0.50,-0.88),(-0.48,-0.89),(-0.46,-0.90),(-0.44,-0.91),(-0.42,-0.93),(-0.40,-0.97),(-0.395,-1.08),(-0.39,-0.98),(-0.37,-0.96),(-0.35,-0.98),(-0.33,-1.00),(-0.31,-1.02),(-0.29,-1.04),(-0.27,-1.06),(-0.25,-1.08),(-0.23,-1.10),(-0.21,-1.12),(-0.19,-1.14),(-0.17,-1.16),(-0.15,-1.20),(-0.14,-1.22),(-0.13,-1.20),(-0.11,-1.12),(-0.09,-1.06),(-0.07,-1.02),(-0.055,-1.00),(-0.05,-1.18),(-0.04,-1.32),(-0.02,-1.34),(0.0,-1.30),(0.005,-1.00),(0.01,-0.40),(0.015,0.20),(0.02,0.65),(0.025,0.88),(0.03,0.98),(0.04,1.02),(0.06,1.00),(0.09,0.99),(0.12,0.98),(0.15,0.99),(0.18,1.00),(0.21,1.01),(0.24,1.02),(0.27,1.01),(0.30,1.00),(0.33,0.99),(0.36,0.98),(0.39,0.99),(0.42,1.00),(0.45,1.02),(0.48,1.04),(0.50,1.06),(0.52,1.04),(0.55,1.02),(0.58,1.01),(0.61,1.00),(0.64,0.96),(0.67,0.88),(0.69,0.80),(0.71,0.73)],
    [(-0.63,-0.74),(-0.61,-0.72),(-0.59,-0.74),(-0.57,-0.73),(-0.55,-0.75),(-0.52,-0.77),(-0.49,-0.78),(-0.46,-0.79),(-0.43,-0.78),(-0.40,-0.77),(-0.37,-0.76),(-0.34,-0.77),(-0.31,-0.79),(-0.28,-0.80),(-0.25,-0.81),(-0.22,-0.82),(-0.19,-0.81),(-0.16,-0.80),(-0.13,-0.79),(-0.10,-0.80),(-0.08,-0.82),(-0.06,-0.80),(-0.05,-0.95),(-0.045,-1.10),(-0.03,-1.16),(-0.01,-1.14),(0.0,-1.05),(0.005,-0.70),(0.01,-0.10),(0.015,0.45),(0.02,0.80),(0.025,0.90),(0.03,0.88),(0.05,0.84),(0.08,0.82),(0.11,0.80),(0.14,0.79),(0.17,0.78),(0.20,0.77),(0.23,0.76),(0.26,0.77),(0.29,0.78),(0.32,0.80),(0.35,0.82),(0.38,0.84),(0.41,0.86),(0.44,0.88),(0.47,0.87),(0.50,0.86),(0.53,0.85),(0.56,0.86),(0.59,0.88),(0.62,0.90),(0.65,0.88),(0.67,0.82),(0.69,0.76),(0.71,0.68)],
    [(0.70,0.74),(0.68,0.80),(0.66,0.84),(0.64,0.86),(0.61,0.85),(0.58,0.84),(0.55,0.86),(0.52,0.89),(0.49,0.92),(0.46,0.94),(0.43,0.96),(0.40,0.97),(0.37,0.96),(0.34,0.95),(0.31,0.97),(0.28,0.99),(0.25,1.00),(0.22,1.01),(0.19,1.00),(0.16,0.99),(0.13,1.00),(0.10,1.01),(0.07,1.02),(0.05,1.01),(0.03,0.95),(0.02,0.75),(0.01,0.40),(0.0,0.05),(-0.01,-0.20),(-0.02,-0.40),(-0.035,-0.55),(-0.05,-0.68),(-0.065,-0.78),(-0.08,-0.82),(-0.10,-0.84),(-0.13,-0.86),(-0.16,-0.88),(-0.19,-0.90),(-0.22,-0.92),(-0.25,-0.93),(-0.28,-0.94),(-0.31,-0.93),(-0.34,-0.91),(-0.37,-0.90),(-0.40,-0.91),(-0.43,-0.93),(-0.46,-0.94),(-0.49,-0.92),(-0.52,-0.90),(-0.55,-0.88),(-0.58,-0.86),(-0.60,-0.84),(-0.62,-0.80)],
    [(-0.60,-0.70),(-0.58,-0.72),(-0.56,-0.71),(-0.53,-0.73),(-0.50,-0.74),(-0.47,-0.75),(-0.44,-0.74),(-0.41,-0.73),(-0.38,-0.74),(-0.35,-0.76),(-0.32,-0.77),(-0.29,-0.78),(-0.26,-0.77),(-0.23,-0.76),(-0.20,-0.77),(-0.17,-0.78),(-0.14,-0.79),(-0.11,-0.80),(-0.08,-0.82),(-0.07,-0.78),(-0.06,-0.60),(-0.055,-0.40),(-0.05,-0.70),(-0.045,-0.95),(-0.04,-1.05),(-0.02,-1.08),(0.0,-1.02),(0.005,-0.60),(0.01,0.00),(0.015,0.50),(0.02,0.82),(0.025,0.95),(0.03,1.00),(0.035,0.96),(0.05,0.92),(0.08,0.90),(0.11,0.92),(0.14,0.94),(0.17,0.93),(0.20,0.91),(0.23,0.89),(0.26,0.88),(0.29,0.89),(0.32,0.91),(0.35,0.93),(0.38,0.94),(0.41,0.93),(0.44,0.91),(0.47,0.89),(0.50,0.88),(0.53,0.89),(0.56,0.92),(0.58,0.96),(0.60,1.00),(0.61,1.12),(0.62,1.05),(0.63,0.98),(0.65,0.92),(0.67,0.84),(0.69,0.76),(0.71,0.66)],
    [(-0.62,-0.78),(-0.59,-0.82),(-0.56,-0.84),(-0.53,-0.83),(-0.50,-0.81),(-0.47,-0.80),(-0.44,-0.82),(-0.41,-0.84),(-0.38,-0.86),(-0.35,-0.85),(-0.32,-0.83),(-0.29,-0.82),(-0.26,-0.84),(-0.23,-0.86),(-0.20,-0.88),(-0.17,-0.90),(-0.14,-0.92),(-0.11,-0.94),(-0.08,-0.93),(-0.06,-0.91),(-0.05,-1.05),(-0.04,-1.20),(-0.02,-1.22),(0.0,-1.18),(0.005,-0.85),(0.01,-0.25),(0.015,0.30),(0.02,0.62),(0.025,0.72),(0.04,0.74),(0.07,0.72),(0.10,0.71),(0.13,0.70),(0.16,0.71),(0.19,0.72),(0.22,0.73),(0.25,0.72),(0.28,0.71),(0.31,0.70),(0.34,0.69),(0.37,0.70),(0.40,0.72),(0.43,0.74),(0.46,0.76),(0.49,0.78),(0.52,0.80),(0.55,0.82),(0.58,0.81),(0.61,0.80),(0.64,0.78),(0.66,0.75),(0.68,0.72),(0.70,0.68)],
    [(0.71,0.66),(0.69,0.74),(0.67,0.80),(0.65,0.84),(0.62,0.86),(0.59,0.87),(0.56,0.88),(0.53,0.90),(0.51,0.94),(0.49,1.02),(0.48,1.10),(0.47,1.00),(0.45,0.95),(0.42,0.93),(0.39,0.91),(0.36,0.90),(0.33,0.89),(0.30,0.88),(0.27,0.87),(0.24,0.88),(0.21,0.90),(0.18,0.92),(0.15,0.94),(0.12,0.96),(0.09,0.97),(0.06,0.98),(0.04,0.96),(0.03,0.88),(0.02,0.60),(0.01,0.25),(0.0,-0.05),(-0.01,-0.30),(-0.02,-0.50),(-0.03,-0.65),(-0.045,-0.75),(-0.06,-0.80),(-0.08,-0.82),(-0.11,-0.84),(-0.14,-0.85),(-0.17,-0.84),(-0.20,-0.83),(-0.23,-0.82),(-0.26,-0.81),(-0.29,-0.80),(-0.32,-0.79),(-0.35,-0.80),(-0.38,-0.82),(-0.41,-0.84),(-0.44,-0.83),(-0.47,-0.81),(-0.50,-0.79),(-0.53,-0.77),(-0.56,-0.75),(-0.59,-0.73),(-0.62,-0.71)],
]

colors = ["#cccccc", "#000000", "#ff0000"]
FONT = "Liberation Sans, Arial, sans-serif"
W, H = 1036, 459

fig = make_subplots(rows=1, cols=2)


def add_group(curves, color, name, col, legend):
    for i, pts in enumerate(curves):
        xs = [p[0] for p in pts]
        ys = [p[1] for p in pts]
        fig.add_trace(go.Scatter(x=xs, y=ys, mode="lines", name=name,
                                 line=dict(color=color, width=1),
                                 legend=legend, legendgroup=legend + name,
                                 showlegend=(i == 0), hoverinfo="skip"),
                      row=1, col=col)


for col, legend, groups in [(1, "legend", [a_robot, a_mini40, a_corrected]),
                            (2, "legend2", [b_robot, b_mini40, b_corrected])]:
    for curves, color, name in zip(groups, colors, series_names):
        add_group(curves, color, name, col, legend)

axis_style = dict(showline=True, linecolor="#262626", linewidth=1, mirror="ticks",
                  ticks="inside", ticklen=5, tickcolor="#262626", automargin=False,
                  showgrid=True, gridcolor="#dedede", gridwidth=1, zeroline=False,
                  tickfont=dict(family=FONT, size=15.5, color="#262626"))

fig.update_xaxes(axis_style, range=[-0.8, 0.8], tickvals=x_ticks,
                 ticktext=[f"{v:g}" for v in x_ticks], ticklabelstandoff=8)
fig.update_yaxes(axis_style, range=[-2, 1.5], tickvals=y_ticks,
                 ticktext=[f"{v:g}" for v in y_ticks], ticklabelstandoff=2)
# panel positions in pixels -> paper fractions
fig.update_layout(
    xaxis=dict(domain=[68 / W, 466 / W]),
    yaxis=dict(domain=[1 - 354 / H, 1 - 38 / H]),
    xaxis2=dict(domain=[584 / W, 995 / W]),
    yaxis2=dict(domain=[1 - 348 / H, 1 - 33 / H]),
)

legend_style = dict(bgcolor="white", bordercolor="#262626", borderwidth=1,
                    xanchor="left", yanchor="top", itemwidth=45,
                    tracegroupgap=0, traceorder="normal")
fig.update_layout(
    legend=dict(legend_style, x=292 / W, y=1 - 179 / H,
                font=dict(family=FONT, size=14, color="#000000")),
    legend2=dict(legend_style, x=815 / W, y=1 - 161 / H,
                 font=dict(family=FONT, size=14.5, color="#000000")),
)


def px_note(text, x, y, size, angle=0, family=FONT):
    fig.add_annotation(text=text, x=x / W, y=1 - y / H, xref="paper", yref="paper",
                       showarrow=False, textangle=angle, xanchor="center", yanchor="middle",
                       font=dict(family=family, size=size, color="#000000"))


px_note("<b>1-Hz filtered sensed torque vs velocity</b>", 267, 25, 17)
px_note("<b>Repeatability test</b>", 789, 18, 17)
px_note("Speed (rad/s)", 267, 394, 17)
px_note("Speed (rad/s)", 789, 390, 17)
px_note("Torque (Nm)", 22, 196, 17, angle=-90)
px_note("Torque (Nm)", 538, 190, 17, angle=-90)
px_note("(<b>a</b>)", 247, 447, 20, family="Liberation Serif, serif")
px_note("(<b>b</b>)", 771, 447, 20, family="Liberation Serif, serif")

fig.update_layout(width=W, height=H, margin=dict(l=0, r=0, t=0, b=0),
                  paper_bgcolor="white", plot_bgcolor="white")

# drop the browser's default 8px body margin so the figure sits at the page origin
fig.write_html("out.html", config={"displayModeBar": False},
               post_script="document.body.style.margin='0';")
